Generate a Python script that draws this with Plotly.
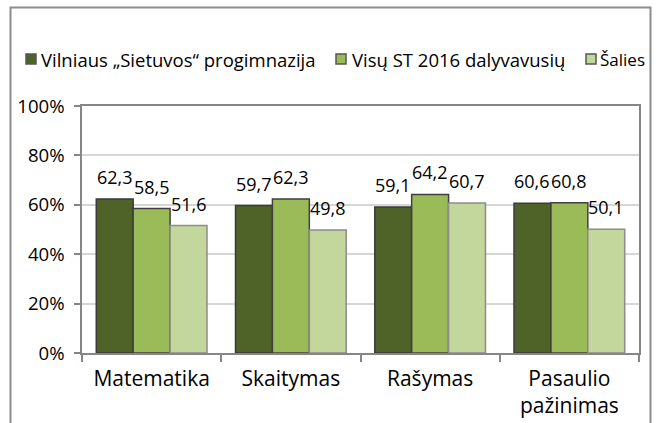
import plotly.graph_objects as go

# Results by subject (percent)
categories = ["Matematika", "Skaitymas", "Rašymas", "Pasaulio<br>pažinimas"]
series_names = ["Vilniaus „Sietuvos“ progimnazija", "Visų ST 2016 dalyvavusių", "Šalies"]
school = [62.3, 59.7, 59.1, 60.6]
all_st = [58.5, 62.3, 64.2, 60.8]
country = [51.6, 49.8, 60.7, 50.1]
y_ticks = [0, 20, 40, 60, 80, 100]
y_tick_labels = ["0%", "20%", "40%", "60%", "80%", "100%"]

series_values = [school, all_st, country]
fill_colors = ["#4F6228", "#9BBB59", "#C3D69B"]
edge_colors = ["#3a3a3a", "#404040", "#8c8c8c"]

W, H = 656, 423
L, R, T, B = 82, 17, 106, 70
PW, PH = W - L - R, H - T - B
BARGAP = 0.205
FONT = "Open Sans"

# legend row: square left edges, text starts (pixels) and text sizes
LEGEND_Y = 59
LEGEND_SQ_X = [26, 336, 586]
LEGEND_TXT_X = [39, 350, 598]
LEGEND_FONT = [18.5, 18.5, 17]
SQ = 10


def paper_x(px):
    return (px - L) / PW


def paper_y(py):
    return (H - B - py) / PH


fig = go.Figure()
for name, vals, fc, ec in zip(series_names, series_values, fill_colors, edge_colors):
    fig.add_trace(go.Bar(
        name=name, x=categories, y=vals,
        marker=dict(color=fc, line=dict(color=ec, width=1.5)),
        hoverinfo="skip", showlegend=False,
    ))

# value labels above each bar, decimal comma
bar_w = (1 - BARGAP) / len(series_values)
annotations = []
for j, vals in enumerate(series_values):
    offset = (j - (len(series_values) - 1) / 2) * bar_w
    for i, v in enumerate(vals):
        annotations.append(dict(
            x=i + offset, y=v, xref="x", yref="y",
            text=f"{v:.1f}".replace(".", ","),
            showarrow=False, yanchor="middle", yshift=22,
            font=dict(family=FONT, size=18, color="#000000"),
        ))

# legend: colour swatch + series name
shapes = []
for name, fc, sx, tx, fs in zip(series_names, fill_colors, LEGEND_SQ_X, LEGEND_TXT_X, LEGEND_FONT):
    shapes.append(dict(
        type="rect", xref="paper", yref="paper",
        x0=paper_x(sx), x1=paper_x(sx + SQ),
        y0=paper_y(LEGEND_Y + SQ / 2), y1=paper_y(LEGEND_Y - SQ / 2),
        line=dict(color="#555555", width=1.5), fillcolor=fc,
    ))
    annotations.append(dict(
        x=paper_x(tx), y=paper_y(LEGEND_Y), xref="paper", yref="paper",
        text=name, showarrow=False, xanchor="left", yanchor="middle",
        font=dict(family=FONT, size=fs, color="#000000"),
    ))

# outer chart frame
shapes.append(dict(
    type="rect", xref="paper", yref="paper",
    x0=paper_x(10.5), x1=paper_x(650.5), y0=paper_y(445), y1=paper_y(7.5),
    line=dict(color="#8c8c8c", width=2), fillcolor="rgba(0,0,0,0)",
    layer="below",
))

fig.update_layout(
    width=W, height=H,
    margin=dict(l=L, r=R, t=T, b=B, pad=0, autoexpand=False),
    paper_bgcolor="white", plot_bgcolor="white",
    barmode="group", bargap=BARGAP, bargroupgap=0,
    font=dict(family=FONT, size=18, color="#000000"),
    showlegend=False,
    annotations=annotations,
    shapes=shapes,
)

fig.update_yaxes(
    range=[0, 100], tickvals=y_ticks, ticktext=y_tick_labels,
    showgrid=True, gridcolor="#d6d6d6", gridwidth=1.5,
    showline=True, linecolor="#868686", linewidth=1.5, mirror=True,
    ticks="outside", ticklen=6, tickcolor="#868686", tickwidth=1.5,
    zeroline=False, ticklabelstandoff=6, automargin=False,
    tickfont=dict(family=FONT, size=18.6, color="#000000"),
)
fig.update_xaxes(
    type="category",
    showline=True, linecolor="#868686", linewidth=1.5, mirror=True,
    ticks="outside", tickson="boundaries", ticklen=7, tickcolor="#868686", tickwidth=1.5,
    ticklabelstandoff=6, automargin=False,
    tickfont=dict(family=FONT, size=21, color="#000000"),
)

fig.write_html("out.html")
